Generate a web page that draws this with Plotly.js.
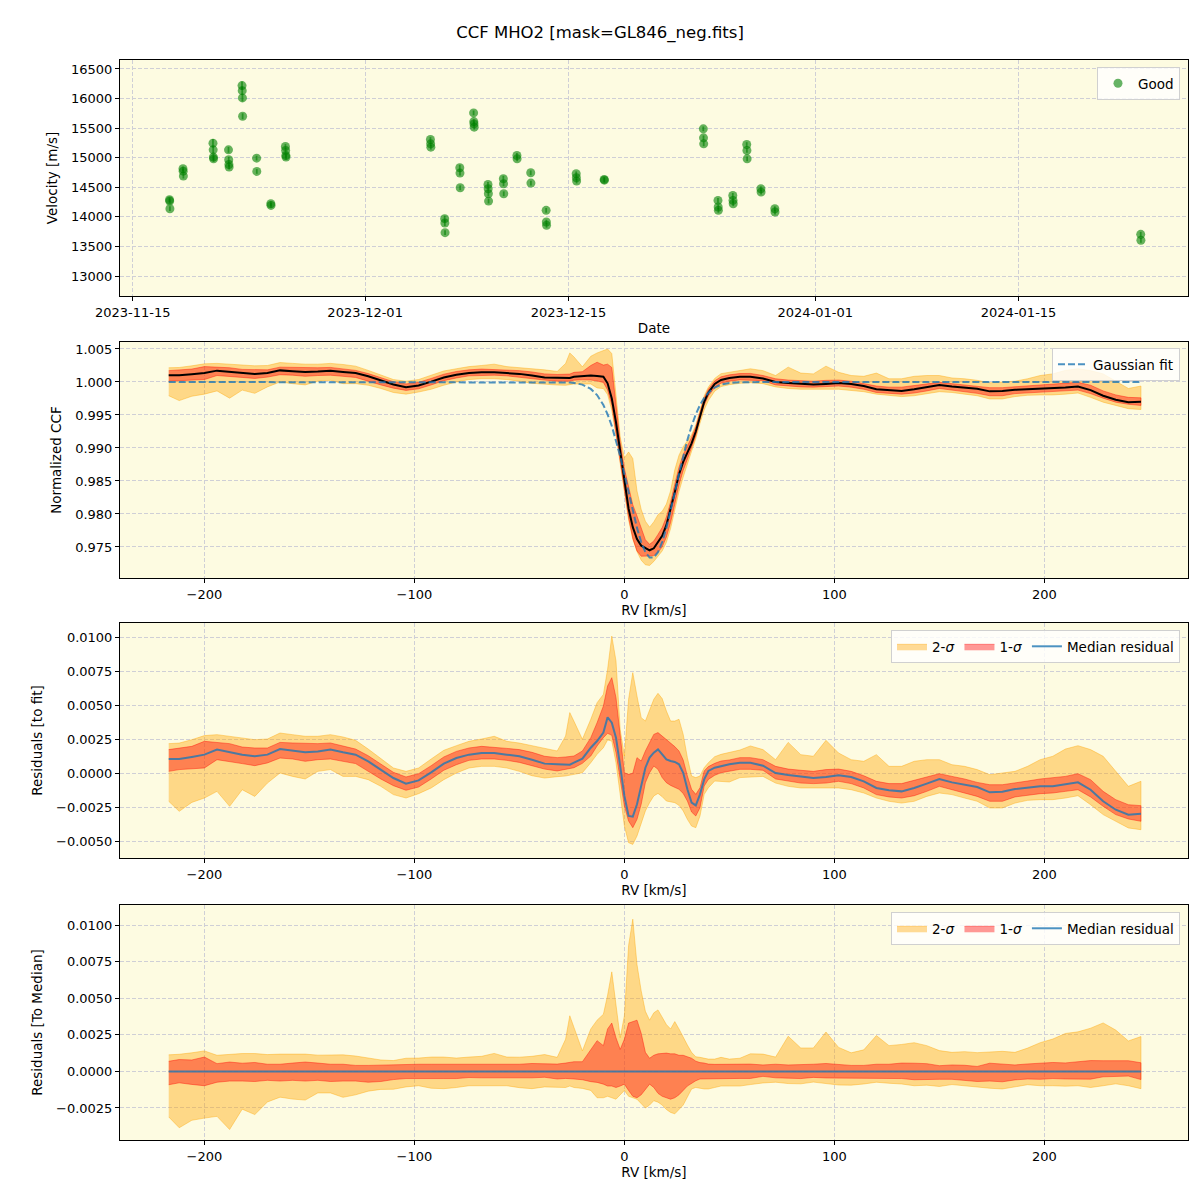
<!DOCTYPE html>
<html>
<head>
<meta charset="utf-8">
<script src="https://cdn.plot.ly/plotly-3.0.1.min.js"></script>
<style>html,body{margin:0;padding:0;background:#fff;}#chart{width:1200px;height:1200px;}</style>
</head>
<body>
<div id="chart"></div>
<script>
// ---------------- Panel 1 : velocities ----------------
const obsTime = [
'2023-11-17 12:40','2023-11-17 13:00','2023-11-17 13:20',
'2023-11-18 10:55','2023-11-18 11:15','2023-11-18 11:35',
'2023-11-20 12:30','2023-11-20 12:50','2023-11-20 13:10','2023-11-20 13:30',
'2023-11-21 14:10','2023-11-21 14:30','2023-11-21 14:50','2023-11-21 15:10',
'2023-11-22 12:30','2023-11-22 12:50','2023-11-22 13:10','2023-11-22 13:30',
'2023-11-23 12:35','2023-11-23 12:55',
'2023-11-24 12:05','2023-11-24 12:25',
'2023-11-25 12:15','2023-11-25 12:35','2023-11-25 12:55','2023-11-25 13:15',
'2023-12-05 11:55','2023-12-05 12:15','2023-12-05 12:35',
'2023-12-06 11:25','2023-12-06 11:45','2023-12-06 12:05',
'2023-12-07 12:25','2023-12-07 12:45','2023-12-07 13:05',
'2023-12-08 11:15','2023-12-08 11:35','2023-12-08 11:55','2023-12-08 12:15',
'2023-12-09 11:00','2023-12-09 11:20','2023-12-09 11:40','2023-12-09 12:00',
'2023-12-10 12:25','2023-12-10 12:45','2023-12-10 13:05',
'2023-12-11 10:50','2023-12-11 11:10',
'2023-12-12 09:40','2023-12-12 10:00',
'2023-12-13 11:10','2023-12-13 11:30','2023-12-13 11:50',
'2023-12-15 12:50','2023-12-15 13:10','2023-12-15 13:30',
'2023-12-17 11:05','2023-12-17 11:25',
'2023-12-24 06:55','2023-12-24 07:15','2023-12-24 07:35',
'2023-12-25 07:10','2023-12-25 07:30','2023-12-25 07:50',
'2023-12-26 07:40','2023-12-26 08:00','2023-12-26 08:20',
'2023-12-27 06:40','2023-12-27 07:00','2023-12-27 07:20',
'2023-12-28 06:05','2023-12-28 06:25',
'2023-12-29 05:05','2023-12-29 05:25',
'2024-01-23 09:50','2024-01-23 10:10'];
const velocity = [
14290,14267,14138, 14813,14773,14689, 15246,15133,15010,14981, 15133,14965,14886,14841,
16219,16134,16011,15701, 14993,14768, 14222,14194, 15190,15122,15038,15010,
15308,15235,15178, 13969,13896,13733, 14830,14740,14492, 15758,15611,15572,15516,
14548,14475,14391,14267, 14644,14560,14391, 15038,14981, 14745,14571, 14110,13913,13857,
14728,14661,14605, 14633,14620, 15488,15336,15235, 14278,14166,14110, 14363,14278,14222,
15223,15122,14981, 14475,14419, 14138,14082, 13705,13604];
const velocityErr = [
40,40,40, 40,40,40, 70,60,50,50, 50,50,40,40, 70,70,60,50, 40,40, 40,40, 40,40,40,40,
40,40,40, 50,50,40, 50,40,40, 40,40,40,40, 40,40,40,40, 50,40,40, 40,40, 40,40, 40,40,40,
40,40,40, 40,40, 40,40,40, 40,40,40, 40,40,40, 40,40,40, 40,40, 40,40, 40,40];
const dateTickVals = ['2023-11-15','2023-12-01','2023-12-15','2024-01-01','2024-01-15'];
const dateTickText = ['2023-11-15','2023-12-01','2023-12-15','2024-01-01','2024-01-15'];

// ---------------- RV grid (km/s) ----------------
const rv = [
-217,-212,-206,-200,-194,-188,-182,-176,-170,-164,
-158,-152,-146,-140,-134,-128,-122,-116,-110,-104,
-98,-92,-86,-80,-74,-68,-62,-56,-50,-44,
-38,-32,-28,-26,-24,-20,-16,-13,-10,-8,
-6,-4,-2,0,2,4,6,8,10,12,
14,16,18,20,22,24,26,28,30,32,
34,36,38,40,43,46,50,55,60,66,
72,78,84,90,96,102,108,114,120,126,
132,138,144,150,156,162,168,174,180,186,
192,198,204,210,216,222,228,234,240,246];

// ---------------- Panel 2 : normalized CCF ----------------
const ccfMedian = [
1.00103,1.00103,1.00118,1.00135,1.00172,1.00152,1.00135,1.00123,1.00135,1.00176,
1.00164,1.00152,1.00159,1.00172,1.00152,1.00135,1.00086,1.00025,0.99963,0.99922,
0.99946,1.00005,1.00069,1.0011,1.00135,1.00147,1.00147,1.00135,1.00123,1.00098,
1.00069,1.00064,1.0006,1.0006,1.0008,1.0009,1.001,1.0009,1.0008,0.9998,
0.9975,0.9939,0.9894,0.9847,0.9808,0.978,0.9762,0.9752,0.9748,0.9745,
0.9748,0.9757,0.9767,0.9783,0.9806,0.9833,0.986,0.9879,0.9893,0.9907,
0.9925,0.9949,0.997,0.9984,0.9997,1.0003,1.0006,1.0008,1.0008,1.00054,
1.0,0.99985,0.99975,0.99963,0.99971,0.99983,0.99971,0.99939,0.9989,0.99873,
0.99865,0.9989,0.99922,0.99956,0.99931,0.99914,0.99897,0.99858,0.99863,0.99882,
0.9989,0.99902,0.99902,0.99917,0.99931,0.99877,0.99792,0.9973,0.99694,0.99701];
const ccf1Lo = [
1.00012,1.00025,1.00029,1.00037,1.00098,1.00086,1.00069,1.00054,1.00074,1.0011,
1.00103,1.00086,1.00098,1.00103,1.00086,1.00069,1.00012,0.99956,0.99907,0.99873,
0.99897,0.99956,1.0002,1.00061,1.00093,1.00103,1.00103,1.00093,1.00078,1.00054,
1.00029,1.00012,1.00012,1.00012,1.00028,1.00033,1.0003,1.00015,0.99993,0.9988,
0.9965,0.9928,0.9884,0.98383,0.9795,0.9763,0.9744,0.9736,0.9736,0.97363,
0.9737,0.9742,0.975,0.9765,0.9787,0.9815,0.9844,0.9866,0.9883,0.9899,
0.99186,0.99438,0.99648,0.99788,0.99918,0.99982,1.00012,1.00032,1.00032,1.0002,
0.99956,0.99939,0.99926,0.99922,0.99926,0.99939,0.99922,0.9989,0.99841,0.99824,
0.99816,0.99833,0.99865,0.99902,0.99877,0.99853,0.99828,0.99792,0.99792,0.99824,
0.99838,0.99848,0.99853,0.99865,0.99877,0.99824,0.99755,0.99694,0.99662,0.99645];
const ccf1Hi = [
1.00172,1.00184,1.00196,1.00233,1.00225,1.00216,1.00191,1.00184,1.00184,1.00225,
1.00221,1.00216,1.00216,1.00221,1.00201,1.00176,1.00127,1.00069,1.00005,0.99971,
0.99995,1.00054,1.00118,1.00159,1.00184,1.00196,1.00191,1.00181,1.00172,1.00152,
1.00123,1.00114,1.00117,1.0012,1.00146,1.00156,1.0025,1.003,1.00256,1.0027,
1.0022,0.9966,0.9909,0.9869,0.9841,0.9814,0.9797,0.9778,0.9761,0.9754,
0.9759,0.9769,0.97795,0.97955,0.9818,0.9845,0.9871,0.989,0.9903,0.9916,
0.9932,0.9955,0.99757,0.9989,1.00018,1.00078,1.00108,1.00128,1.0013,1.00098,
1.00049,1.00029,1.0002,1.00012,1.00025,1.00029,1.00012,0.9998,0.99939,0.99922,
0.99922,0.99946,0.99975,0.99995,0.99975,0.99956,0.99931,0.99914,0.99914,0.99926,
0.99941,0.99956,0.99963,0.99975,0.99995,0.99951,0.99865,0.99804,0.99767,0.9976];
const ccf2Lo = [
0.99792,0.99718,0.99784,0.99816,0.99865,0.99755,0.99877,0.99828,0.99926,1.0,
0.99975,0.99956,1.00012,1.00025,0.99975,0.99975,0.99951,0.99902,0.99841,0.99816,
0.99848,0.9989,0.99951,1.0,1.00037,1.00049,1.00049,1.00037,1.00012,0.9998,
0.99963,0.99954,0.9995,0.9996,0.9997,0.99974,0.9997,0.9991,0.999,0.9981,
0.9957,0.992,0.9878,0.9834,0.9791,0.9762,0.9743,0.973,0.9723,0.9722,
0.9728,0.9736,0.9744,0.9757,0.9778,0.9804,0.9834,0.9856,0.9876,0.9895,
0.9914,0.99374,0.9958,0.9972,0.9986,0.9993,0.9996,0.9998,0.9999,0.99975,
0.99926,0.99902,0.9989,0.9989,0.9989,0.9989,0.99877,0.99853,0.99816,0.99792,
0.99779,0.99792,0.99828,0.99853,0.99841,0.99816,0.99792,0.99743,0.99743,0.99779,
0.99799,0.99804,0.99804,0.99816,0.99833,0.99767,0.99694,0.99645,0.99596,0.99583];
const ccf2Hi = [
1.00216,1.0022,1.00245,1.00275,1.00282,1.0027,1.00257,1.00245,1.0025,1.00294,
1.00282,1.0027,1.0027,1.00282,1.00265,1.0024,1.00176,1.00103,1.00037,1.00012,
1.00037,1.00103,1.00167,1.00201,1.00233,1.0025,1.0027,1.00233,1.0022,1.00201,
1.00184,1.0016,1.0028,1.0044,1.0038,1.0023,1.0039,1.0044,1.0047,1.005,
1.0043,0.9975,0.9917,0.9885,0.9894,0.9884,0.9835,0.9807,0.9789,0.978,
0.9788,0.9799,0.9804,0.9815,0.9835,0.9867,0.9889,0.9902,0.9911,0.992,
0.9935,0.99586,0.9979,0.99924,1.00054,1.00126,1.00144,1.0017,1.002,1.00172,
1.00098,1.00225,1.00135,1.00123,1.0024,1.00147,1.00098,1.00086,1.00135,1.00049,
1.00049,1.00086,1.00098,1.00098,1.00061,1.00049,1.00025,0.99988,1.0,1.00012,
1.00049,1.00098,1.00123,1.00176,1.00201,1.00172,1.00123,1.00012,0.99902,0.99939];
const gaussFit = [
1,1,1,1,1,1,1,1,1,1,
1,1,1,1,1,1,1,1,1,1,
1,1,1,1,1,1,1,1,1,1,
1,1,0.99996,0.99992,0.99986,0.9996,0.99895,0.99802,0.99651,0.9951,
0.99334,0.99122,0.98876,0.98606,0.98323,0.98045,0.97789,0.97575,0.97421,0.9734,
0.9734,0.97421,0.97575,0.97789,0.98045,0.98323,0.98606,0.98876,0.99122,0.99334,
0.9951,0.99651,0.99759,0.99838,0.99916,0.9996,0.99986,0.99997,1,1,
1,1,1,1,1,1,1,1,1,1,
1,1,1,1,1,1,1,1,1,1,
1,1,1,1,1,1,1,1,1,1];

// ---------------- Panel 3 : residuals to fit ----------------
const resMedian = [
0.00103,0.00103,0.00118,0.00135,0.00172,0.00152,0.00135,0.00123,0.00135,0.00176,
0.00164,0.00152,0.00159,0.00172,0.00152,0.00135,0.00086,0.00025,-0.00037,-0.00078,
-0.00054,0.00005,0.00069,0.0011,0.00135,0.00147,0.00147,0.00135,0.00123,0.00098,
0.00069,0.00064,0.00059,0.00061,0.00076,0.00105,0.00186,0.00235,0.00297,0.0041,
0.0037,0.0026,0.00051,-0.00169,-0.00316,-0.00321,-0.0023,-0.00096,0.00039,0.00113,
0.0015,0.00174,0.00137,0.001,0.00088,0.00081,0.00064,0.00002,-0.0012,-0.00218,
-0.00238,-0.00157,-0.00047,0.00015,0.00039,0.00051,0.00064,0.00076,0.00076,0.00054,
0,-0.00015,-0.00025,-0.00037,-0.00029,-0.00017,-0.00029,-0.00061,-0.0011,-0.00127,
-0.00135,-0.0011,-0.00078,-0.00044,-0.00069,-0.00086,-0.00103,-0.00142,-0.00137,-0.00118,
-0.0011,-0.00098,-0.00098,-0.00083,-0.00069,-0.00123,-0.00208,-0.0027,-0.00306,-0.00299];
const res1Lo = [
0.00012,0.00025,0.00029,0.00037,0.00098,0.00086,0.00069,0.00054,0.00074,0.0011,
0.00103,0.00086,0.00098,0.00103,0.00086,0.00069,0.00012,-0.00044,-0.00093,-0.00127,
-0.00103,-0.00044,0.0002,0.00061,0.00093,0.00103,0.00103,0.00093,0.00078,0.00054,
0.00029,0.00015,0.00027,0.00032,0.00039,0.00071,0.00125,0.00199,0.0026,0.00292,
0.00277,0.0015,-0.00047,-0.00243,-0.00353,-0.00402,-0.00341,-0.0023,-0.00071,0.00002,
0.00051,0.00027,-0.00034,-0.00071,-0.00091,-0.00108,-0.0012,-0.0015,-0.00206,-0.00287,
-0.00316,-0.00255,-0.00096,-0.00047,-0.00017,0.00002,0.00015,0.00027,0.00027,0.0002,
-0.00044,-0.00061,-0.00074,-0.00078,-0.00074,-0.00061,-0.00078,-0.0011,-0.00159,-0.00176,
-0.00184,-0.00167,-0.00135,-0.00098,-0.00123,-0.00147,-0.00172,-0.00208,-0.00208,-0.00176,
-0.00162,-0.00152,-0.00147,-0.00135,-0.00123,-0.00176,-0.00245,-0.00306,-0.00338,-0.00355];
const res1Hi = [
0.00172,0.00184,0.00196,0.00233,0.00225,0.00216,0.00191,0.00184,0.00184,0.00225,
0.00221,0.00216,0.00216,0.00221,0.00201,0.00176,0.00127,0.00069,0.00005,-0.00029,
-0.00005,0.00054,0.00118,0.00159,0.00184,0.00196,0.00191,0.00181,0.00172,0.00152,
0.00123,0.00113,0.00118,0.0012,0.00125,0.00162,0.0026,0.0037,0.00493,0.0064,
0.00701,0.00554,0.00297,0.00002,-0.0001,-0.00002,0.00113,0.00088,0.00162,0.00223,
0.00284,0.00297,0.00272,0.00248,0.00223,0.00194,0.00162,0.00096,-0.00022,-0.0012,
-0.00157,-0.00108,0.00015,0.00047,0.00071,0.00088,0.00096,0.00113,0.00113,0.00098,
0.00049,0.00029,0.0002,0.00012,0.00025,0.00029,0.00012,-0.0002,-0.00061,-0.00078,
-0.00078,-0.00054,-0.00025,-0.00005,-0.00025,-0.00044,-0.00069,-0.00086,-0.00086,-0.00074,
-0.00059,-0.00044,-0.00037,-0.00025,-0.00005,-0.00049,-0.00135,-0.00196,-0.00233,-0.0024];
const res2Lo = [
-0.00208,-0.00282,-0.00216,-0.00184,-0.00135,-0.00245,-0.00123,-0.00172,-0.00074,0,
-0.00025,-0.00044,0.00012,0.00025,-0.00025,-0.00025,-0.00049,-0.00098,-0.00159,-0.00184,
-0.00152,-0.0011,-0.00049,0,0.00037,0.00049,0.00049,0.00037,0.00012,-0.0002,
-0.00037,-0.00027,-0.00022,-0.00017,-0.0001,0.00002,0.00076,0.00137,0.00186,0.00243,
0.00235,0.00076,-0.00145,-0.0039,-0.00512,-0.00525,-0.00463,-0.00377,-0.00279,-0.00218,
-0.00169,-0.0015,-0.00174,-0.00206,-0.00213,-0.00218,-0.00238,-0.00279,-0.00341,-0.0039,
-0.00402,-0.00316,-0.00157,-0.00108,-0.00059,-0.00059,-0.00066,-0.00034,-0.00027,-0.00025,
-0.00074,-0.00098,-0.0011,-0.0011,-0.0011,-0.0011,-0.00123,-0.00147,-0.00184,-0.00208,
-0.00221,-0.00208,-0.00172,-0.00147,-0.00159,-0.00184,-0.00208,-0.00257,-0.00257,-0.00221,
-0.00201,-0.00196,-0.00196,-0.00184,-0.00167,-0.00233,-0.00306,-0.00355,-0.00404,-0.00417];
const res2Hi = [
0.00216,0.0022,0.00245,0.00275,0.00282,0.0027,0.00257,0.00245,0.0025,0.00294,
0.00282,0.0027,0.0027,0.00282,0.00265,0.0024,0.00176,0.00103,0.00037,0.00012,
0.00037,0.00103,0.00167,0.00201,0.00233,0.0025,0.0027,0.00233,0.0022,0.00201,
0.00184,0.00162,0.00272,0.00444,0.0038,0.00248,0.00395,0.00517,0.00578,0.00762,
0.01007,0.00824,0.00321,0.00125,0.00542,0.00738,0.00566,0.00407,0.00382,0.00456,
0.00542,0.00586,0.00547,0.00456,0.00382,0.00382,0.00395,0.00284,0.00113,-0.00022,
-0.00034,-0.00022,0.00039,0.00076,0.0012,0.00137,0.0015,0.00169,0.00199,0.00172,
0.00098,0.00225,0.00135,0.00123,0.0024,0.00147,0.00098,0.00086,0.00135,0.00049,
0.00049,0.00086,0.00098,0.00098,0.00061,0.00049,0.00025,-0.00012,0,0.00012,
0.00049,0.00098,0.00123,0.00176,0.00201,0.00172,0.00123,0.00012,-0.00098,-0.00061];

// ---------------- Panel 4 : residuals to median ----------------
const medMedian = [
0,0,0,0,0,0,0,0,0,0, 0,0,0,0,0,0,0,0,0,0, 0,0,0,0,0,0,0,0,0,0, 0,0,0,0,0,0,0,0,0,0,
0,0,0,0,0,0,0,0,0,0, 0,0,0,0,0,0,0,0,0,0, 0,0,0,0,0,0,0,0,0,0, 0,0,0,0,0,0,0,0,0,0,
0,0,0,0,0,0,0,0,0,0, 0,0,0,0,0,0,0,0,0,0];
const med1Lo = [
-0.00091,-0.00078,-0.00089,-0.00098,-0.00074,-0.00066,-0.00066,-0.00069,-0.00061,-0.00066,
-0.00061,-0.00066,-0.00061,-0.00069,-0.00066,-0.00066,-0.00074,-0.00069,-0.00056,-0.00049,
-0.00049,-0.00049,-0.00049,-0.00049,-0.00042,-0.00044,-0.00044,-0.00042,-0.00045,-0.00044,
-0.0004,-0.00052,-0.00048,-0.00048,-0.00052,-0.00057,-0.0007,-0.00075,-0.00087,-0.001,
-0.001,-0.0011,-0.001,-0.00087,-0.0013,-0.0017,-0.0018,-0.0016,-0.0012,-0.00087,
-0.0011,-0.0015,-0.0017,-0.0018,-0.0019,-0.0018,-0.0016,-0.0013,-0.001,-0.0008,
-0.00064,-0.00052,-0.00052,-0.00052,-0.00052,-0.00048,-0.00048,-0.00048,-0.00048,-0.00034,
-0.00044,-0.00046,-0.00049,-0.00041,-0.00045,-0.00044,-0.00049,-0.00049,-0.00049,-0.00049,
-0.00049,-0.00057,-0.00057,-0.00054,-0.00054,-0.00061,-0.00069,-0.00066,-0.00071,-0.00058,
-0.00052,-0.00054,-0.00049,-0.00052,-0.00054,-0.00053,-0.00037,-0.00036,-0.00032,-0.00056];
const med1Hi = [
0.00069,0.00081,0.00078,0.00098,0.00053,0.00064,0.00056,0.00061,0.00049,0.00049,
0.00057,0.00064,0.00057,0.00049,0.00049,0.00041,0.00041,0.00044,0.00042,0.00049,
0.00049,0.00049,0.00049,0.00049,0.00049,0.00049,0.00044,0.00046,0.00049,0.00054,
0.00054,0.0005,0.00057,0.0006,0.00066,0.00066,0.0015,0.0021,0.00176,0.0029,
0.0033,0.0023,0.0015,0.0022,0.0033,0.0034,0.0035,0.0026,0.0013,0.0009,
0.0011,0.0012,0.00125,0.00125,0.0012,0.0012,0.0011,0.0011,0.001,0.0009,
0.0007,0.0006,0.00057,0.0005,0.00048,0.00048,0.00048,0.00048,0.0005,0.00044,
0.00049,0.00044,0.00045,0.00049,0.00054,0.00046,0.00041,0.00041,0.00049,0.00049,
0.00057,0.00056,0.00053,0.00039,0.00044,0.00042,0.00034,0.00056,0.00051,0.00044,
0.00051,0.00054,0.00061,0.00058,0.00064,0.00074,0.00073,0.00074,0.00073,0.00059];
const med2Lo = [
-0.00311,-0.00385,-0.00334,-0.00319,-0.00307,-0.00397,-0.00258,-0.00295,-0.00209,-0.00176,
-0.00189,-0.00196,-0.00147,-0.00147,-0.00177,-0.0016,-0.00135,-0.00123,-0.00122,-0.00106,
-0.00098,-0.00115,-0.00118,-0.0011,-0.00098,-0.00098,-0.00098,-0.00098,-0.00111,-0.00118,
-0.00106,-0.0011,-0.0011,-0.001,-0.0011,-0.00116,-0.0013,-0.0018,-0.0018,-0.0017,
-0.0018,-0.0019,-0.0016,-0.0013,-0.0017,-0.0018,-0.0019,-0.0022,-0.0025,-0.0023,
-0.002,-0.0021,-0.0023,-0.0026,-0.0028,-0.0029,-0.0026,-0.0023,-0.0017,-0.0012,
-0.0011,-0.00116,-0.0012,-0.0012,-0.0011,-0.001,-0.001,-0.001,-0.0009,-0.00079,
-0.00074,-0.00083,-0.00085,-0.00073,-0.00081,-0.00093,-0.00094,-0.00086,-0.00074,-0.00081,
-0.00086,-0.00098,-0.00094,-0.00103,-0.0009,-0.00098,-0.00105,-0.00115,-0.0012,-0.00103,
-0.00091,-0.00098,-0.00098,-0.00101,-0.00098,-0.0011,-0.00098,-0.00085,-0.00098,-0.00118];
const med2Hi = [
0.00113,0.00117,0.00127,0.0014,0.0011,0.00118,0.00122,0.00122,0.00115,0.00118,
0.00118,0.00118,0.00111,0.0011,0.00113,0.00105,0.0009,0.00078,0.00074,0.0009,
0.00091,0.00098,0.00098,0.00091,0.00098,0.00103,0.00123,0.00098,0.00097,0.00103,
0.00115,0.00096,0.0022,0.0038,0.003,0.0014,0.0029,0.0035,0.0039,0.0052,
0.0068,0.0047,0.0023,0.0038,0.0086,0.0104,0.0073,0.0055,0.0041,0.0035,
0.004,0.0042,0.0037,0.0032,0.0029,0.0034,0.0029,0.0023,0.0018,0.0013,
0.001,0.00096,0.0009,0.00084,0.00084,0.00096,0.00084,0.0009,0.0012,0.00118,
0.00098,0.0024,0.0016,0.0016,0.00269,0.00164,0.00127,0.00147,0.00245,0.00176,
0.00184,0.00196,0.00176,0.00142,0.0013,0.00135,0.00128,0.0013,0.00137,0.0013,
0.00159,0.00196,0.00221,0.00259,0.0027,0.00295,0.00331,0.00282,0.00208,0.00238];

// ---------------- styling ----------------
const FONT = 'DejaVu Sans, Liberation Sans, sans-serif';
const C2 = 'rgba(255,165,0,0.4)';
const C1 = 'rgba(255,0,0,0.4)';
const BLUE = 'rgba(31,119,180,0.8)';

function band(lo, hi, color, name, xa, ya, legend, show) {
  return {
    x: rv.concat(rv.slice().reverse()),
    y: hi.concat(lo.slice().reverse()),
    xaxis: xa, yaxis: ya, type: 'scatter', mode: 'lines',
    fill: 'toself', fillcolor: color,
    line: {color: color, width: 1},
    name: name, legend: legend, showlegend: show, hoverinfo: 'skip'
  };
}

const traces = [
  {x: obsTime, y: velocity, xaxis: 'x', yaxis: 'y', type: 'scatter', mode: 'markers',
   name: 'Good', legend: 'legend',
   marker: {color: 'rgba(0,128,0,0.6)', size: 9, line: {width: 0}},
   error_y: {type: 'data', array: velocityErr, visible: true, color: 'rgba(0,128,0,0.6)', thickness: 1.8, width: 0}},

  band(ccf2Lo, ccf2Hi, C2, '2σ', 'x2', 'y2', 'legend2', false),
  band(ccf1Lo, ccf1Hi, C1, '1σ', 'x2', 'y2', 'legend2', false),
  {x: rv, y: ccfMedian, xaxis: 'x2', yaxis: 'y2', type: 'scatter', mode: 'lines',
   line: {color: 'black', width: 2}, showlegend: false, legend: 'legend2'},
  {x: rv, y: gaussFit, xaxis: 'x2', yaxis: 'y2', type: 'scatter', mode: 'lines',
   name: 'Gaussian fit', legend: 'legend2',
   line: {color: BLUE, width: 2, dash: '7px,3px'}},

  band(res2Lo, res2Hi, C2, '2-<i>σ</i>', 'x3', 'y3', 'legend3', true),
  band(res1Lo, res1Hi, C1, '1-<i>σ</i>', 'x3', 'y3', 'legend3', true),
  {x: rv, y: resMedian, xaxis: 'x3', yaxis: 'y3', type: 'scatter', mode: 'lines',
   name: 'Median residual', legend: 'legend3', line: {color: BLUE, width: 2}},

  band(med2Lo, med2Hi, C2, '2-<i>σ</i>', 'x4', 'y4', 'legend4', true),
  band(med1Lo, med1Hi, C1, '1-<i>σ</i>', 'x4', 'y4', 'legend4', true),
  {x: rv, y: medMedian, xaxis: 'x4', yaxis: 'y4', type: 'scatter', mode: 'lines',
   name: 'Median residual', legend: 'legend4', line: {color: BLUE, width: 2}}
];

const tickFont = {family: FONT, size: 13, color: '#000'};
const titleFont = {family: FONT, size: 13.5, color: '#000'};
function xAx(extra) {
  return Object.assign({
    showline: true, linecolor: '#000', linewidth: 1, mirror: true,
    ticks: 'outside', ticklen: 4, tickcolor: '#000', tickfont: tickFont,
    showgrid: true, gridcolor: '#cfcfd6', griddash: '4px,2px', gridwidth: 1,
    zeroline: false
  }, extra);
}
const legendBase = {
  bgcolor: 'rgba(255,255,255,0.8)', bordercolor: '#d0d0d0', borderwidth: 1,
  font: {family: FONT, size: 13.5, color: '#000'},
  xanchor: 'right', yanchor: 'top', xref: 'paper', yref: 'paper'
};

const layout = {
  width: 1200, height: 1200,
  margin: {l: 120, r: 12, t: 60, b: 60},
  paper_bgcolor: '#ffffff', plot_bgcolor: '#fdfbe1',
  font: {family: FONT, size: 13, color: '#000'},
  title: {text: 'CCF MHO2 [mask=GL846_neg.fits]', font: {family: FONT, size: 16.5, color: '#000'},
          x: 0.5, xanchor: 'center', xref: 'container', y: 1 - 32/1200, yanchor: 'middle', yref: 'container'},
  xaxis: xAx({domain: [0, 1], anchor: 'y', type: 'date',
              range: ['2023-11-14 02:50', '2024-01-26 16:00'],
              tickmode: 'array', tickvals: dateTickVals, ticktext: dateTickText,
              title: {text: 'Date', font: titleFont, standoff: 4}}),
  yaxis: xAx({domain: [0.78148, 1], anchor: 'x', range: [12662, 16652],
              tick0: 13000, dtick: 500, tickformat: 'd',
              title: {text: 'Velocity [m/s]', font: titleFont, standoff: 10}}),
  xaxis2: xAx({domain: [0, 1], anchor: 'y2', range: [-240.2, 268.4], tick0: 0, dtick: 100,
               title: {text: 'RV [km/s]', font: titleFont, standoff: 4}}),
  yaxis2: xAx({domain: [0.52037, 0.73889], anchor: 'x2', range: [0.9703, 1.00606],
               tick0: 1.0, dtick: 0.005, tickformat: '.3f',
               title: {text: 'Normalized CCF', font: titleFont, standoff: 10}}),
  xaxis3: xAx({domain: [0, 1], anchor: 'y3', range: [-240.2, 268.4], tick0: 0, dtick: 100,
               title: {text: 'RV [km/s]', font: titleFont, standoff: 4}}),
  yaxis3: xAx({domain: [0.26111, 0.47870], anchor: 'x3', range: [-0.00625, 0.01103],
               tick0: 0, dtick: 0.0025, tickformat: '.4f',
               title: {text: 'Residuals [to fit]', font: titleFont, standoff: 10}}),
  xaxis4: xAx({domain: [0, 1], anchor: 'y4', range: [-240.2, 268.4], tick0: 0, dtick: 100,
               title: {text: 'RV [km/s]', font: titleFont, standoff: 4}}),
  yaxis4: xAx({domain: [0, 0.21759], anchor: 'x4', range: [-0.004686, 0.011366],
               tick0: 0, dtick: 0.0025, tickformat: '.4f',
               title: {text: 'Residuals [To Median]', font: titleFont, standoff: 10}}),
  legend: Object.assign({}, legendBase, {x: 0.9925, y: 0.9935}),
  legend2: Object.assign({}, legendBase, {x: 0.9925, y: 0.7333}),
  legend3: Object.assign({}, legendBase, {x: 0.9925, y: 0.4722, orientation: 'h'}),
  legend4: Object.assign({}, legendBase, {x: 0.9925, y: 0.2111, orientation: 'h'}),
  showlegend: true
};

Plotly.newPlot('chart', traces, layout, {displayModeBar: false, staticPlot: true});
</script>
</body>
</html>
